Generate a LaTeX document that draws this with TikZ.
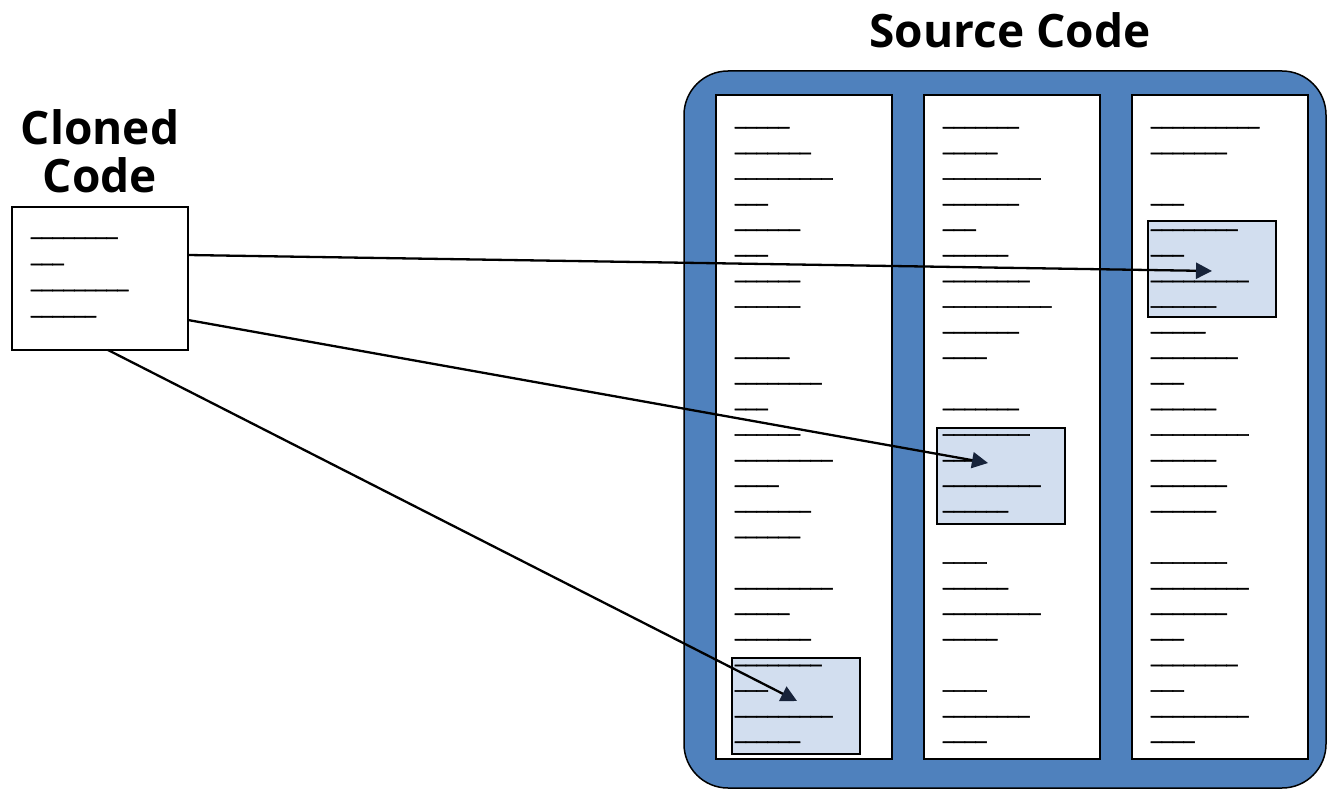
\documentclass[tikz,border=0pt]{standalone}
\usepackage{fontspec}
\usetikzlibrary{arrows.meta}
\newfontfamily\titlefont{Open Sans}
\newfontfamily\usfont[FakeBold=2.5]{Liberation Sans}
\definecolor{outerblue}{HTML}{4F81BD}
\definecolor{hlfill}{HTML}{D2DEEF}
\definecolor{arrowc}{HTML}{17233A}
\tikzset{
  title/.style={font=\titlefont\bfseries\fontsize{46}{48}\selectfont, inner sep=0pt, anchor=base},
  codeline/.style={font=\usfont\fontsize{19.4}{20}\selectfont, inner sep=0pt, anchor=base west},
  column/.style={draw=black, line width=2pt, fill=white},
  hlbox/.style={draw=black, line width=1.8pt, fill=hlfill},
  conn/.style={draw=black, line width=2.3pt, -{Triangle[length=16pt,width=16pt,color=arrowc]}}
}
\newcommand{\usline}[1]{\foreach \j in {1,...,#1}{\_}}
\begin{document}
\begin{tikzpicture}[x=1pt,y=-1pt]
\useasboundingbox (0,0) rectangle (1327,789);
% outer container
\draw[fill=outerblue, draw=black, line width=1.5pt, rounded corners=44pt] (684,71) rectangle (1326,788);
% columns
\node[column, minimum width=176pt, minimum height=664pt, inner sep=0pt] (col1) at (804,427) {};
\node[column, minimum width=176pt, minimum height=664pt, inner sep=0pt] (col2) at (1012,427) {};
\node[column, minimum width=176pt, minimum height=664pt, inner sep=0pt] (col3) at (1220,427) {};
% highlighted fragments
\node[hlbox, minimum width=128pt, minimum height=96pt, inner sep=0pt] (h1) at (796,706) {};
\node[hlbox, minimum width=128pt, minimum height=96pt, inner sep=0pt] (h2) at (1001,476) {};
\node[hlbox, minimum width=128pt, minimum height=96pt, inner sep=0pt] (h3) at (1212,269) {};
% code lines
\foreach \k/\n in {0/5,1/7,2/9,3/3,4/6,5/3,6/6,7/6,9/5,10/8,11/3,12/6,13/9,14/4,15/7,16/6,18/9,19/5,20/7,21/8,22/3,23/9,24/6}
  \node[codeline] (a\k) at (735,{124.6+25.6*\k}) {\usline{\n}};
\foreach \k/\n in {0/7,1/5,2/9,3/7,4/3,5/6,6/8,7/10,8/7,9/4,11/7,12/8,13/3,14/9,15/6,17/4,18/6,19/9,20/5,22/4,23/8,24/4}
  \node[codeline] (b\k) at (943,{124.6+25.6*\k}) {\usline{\n}};
\foreach \k/\n in {0/10,1/7,3/3,4/8,5/3,6/9,7/6,8/5,9/8,10/3,11/6,12/9,13/6,14/7,15/6,17/7,18/9,19/7,20/3,21/8,22/3,23/9,24/4}
  \node[codeline] (c\k) at (1151,{124.6+25.6*\k}) {\usline{\n}};
% titles
\node[title] (src) at (1010,48) {Source Code};
\node[title] (clA) at (100,144) {Cloned};
\node[title] (clB) at (100,192) {Code};
% cloned code box
\node[draw=black, line width=2pt, fill=white, minimum width=176pt, minimum height=143pt, inner sep=0pt] (clone) at (100,278.5) {};
\foreach \k/\n in {0/8,1/3,2/9,3/6}
  \node[codeline] (d\k) at (31,{235.1+26.1*\k}) {\usline{\n}};
% connectors
\coordinate (s1) at (188,255);
\coordinate (s2) at (188,320);
\coordinate (s3) at (108,350);
\coordinate (t1) at (1212,271);
\coordinate (t2) at (988,463);
\coordinate (t3) at (797,701);
\draw[conn] (s1) -- (t1);
\draw[conn] (s2) -- (t2);
\draw[conn] (s3) -- (t3);
\end{tikzpicture}
\end{document}
